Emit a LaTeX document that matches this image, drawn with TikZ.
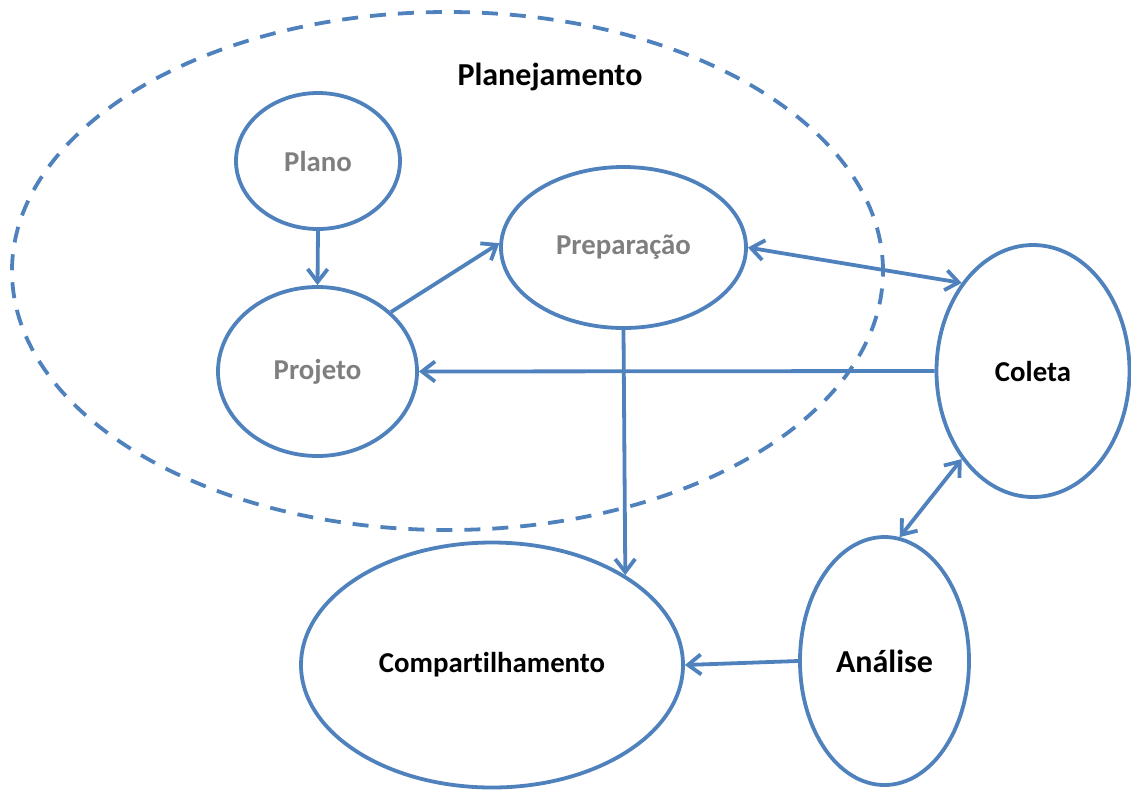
\documentclass[tikz,border=0pt]{standalone}
\usepackage{fontspec}
\setmainfont[Ligatures=NoCommon]{Carlito}
\usetikzlibrary{shapes.geometric,arrows.meta}
\definecolor{lineblue}{HTML}{4F81BD}
\definecolor{softgray}{HTML}{7F7F7F}
\begin{document}
\begin{tikzpicture}[x=0.5pt,y=-0.5pt,
  bubble/.style={ellipse,draw=lineblue,line width=1.9pt,inner sep=0pt,
    font=\bfseries\fontsize{14.4}{16}\selectfont},
  inner/.style={bubble,text=softgray},
  outer/.style={bubble,text=black},
  link/.style={draw=lineblue,line width=1.9pt,-{Straight Barb[length=6.5pt,width=10pt,line width=1.9pt]}},
  duallink/.style={draw=lineblue,line width=1.9pt,
    {Straight Barb[length=6.5pt,width=10pt,line width=1.9pt]}-{Straight Barb[length=6.5pt,width=10pt,line width=1.9pt]}}]
\useasboundingbox (0,0) rectangle (1131,789);
% planning region
\node (plan) [ellipse,draw=lineblue,line width=1.9pt,dash pattern=on 8pt off 6pt,
  minimum width=435.5pt,minimum height=259pt,inner sep=0pt] at (447.5,271) {};
\node (plantitle) [font=\bfseries\fontsize{16}{18}\selectfont] at (550,77) {Planejamento};
% stages
\node (plano) [inner,minimum width=82pt,minimum height=68pt] at (318,161) {Plano};
\node (projeto) [inner,minimum width=99.5pt,minimum height=84.5pt] at (317.5,371.5) {Projeto};
\node (prep) [inner,minimum width=122.5pt,minimum height=80.5pt] at (623.5,247.5) {Preparação};
\node (coleta) [outer,minimum width=96.5pt,minimum height=126pt] at (1033,371) {Coleta};
\node (comp) [outer,minimum width=191pt,minimum height=122.5pt] at (492,665) {Compartilhamento};
\node (analise) [outer,font=\bfseries\fontsize{16}{18}\selectfont,minimum width=84.5pt,minimum height=124pt] at (884.5,661) {Análise};
% connectors
\draw[link] (plano.south) -- (projeto.north);
\draw[link] (projeto.39) -- (prep.178);
\draw[duallink] (prep.east) -- (coleta.129);
\draw[link] (coleta.west) -- (projeto.east);
\draw[link] (prep.south) -- (comp.34);
\draw[duallink] (coleta.231) -- (analise.83);
\draw[link] (analise.west) -- (comp.east);
\end{tikzpicture}
\end{document}
